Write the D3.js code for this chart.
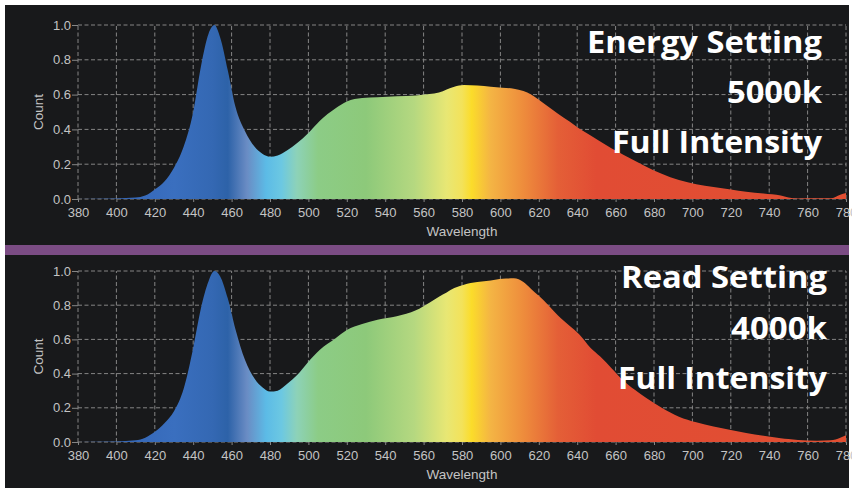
<!DOCTYPE html>
<html>
<head>
<meta charset="utf-8">
<script src="https://cdn.jsdelivr.net/npm/d3@7"></script>
<style>
  body { margin: 0; background: #fff; }
  svg { display: block; }
</style>
</head>
<body>
<svg id="chart" width="852" height="491"></svg>
<script>
// ---- data ----
const wavelengths = [380, 400, 410, 415, 420, 425, 430, 435, 440, 444, 448, 451, 454, 458, 462, 467,
  472, 476, 480, 484, 489, 494, 500, 506, 514, 520, 528, 536, 546, 556, 563, 568, 572, 576, 581,
  588, 595, 601, 607, 612, 616, 620, 625, 630, 636, 641, 647, 652, 658, 664, 670, 676, 684, 693,
  702, 711, 720, 728, 737, 746, 750, 755, 765, 772, 777, 780];

const energy5000k = [0, 0.003, 0.008, 0.02, 0.055, 0.10, 0.18, 0.30, 0.50, 0.76, 0.95, 1.0, 0.93, 0.74, 0.53, 0.39,
  0.30, 0.26, 0.243, 0.25, 0.28, 0.32, 0.38, 0.45, 0.52, 0.56, 0.58, 0.585, 0.59, 0.595, 0.603, 0.612, 0.63, 0.645, 0.655,
  0.652, 0.645, 0.64, 0.634, 0.62, 0.60, 0.57, 0.53, 0.49, 0.445, 0.405, 0.365, 0.33, 0.29, 0.255, 0.22, 0.186, 0.145, 0.109,
  0.085, 0.069, 0.055, 0.042, 0.032, 0.02, 0.008, 0.003, 0.004, 0.004, 0.025, 0.035];

const read4000k = [0, 0.003, 0.01, 0.025, 0.06, 0.11, 0.18, 0.31, 0.55, 0.78, 0.94, 1.0, 0.97, 0.84, 0.66, 0.48,
  0.37, 0.32, 0.295, 0.30, 0.34, 0.39, 0.47, 0.54, 0.605, 0.655, 0.69, 0.715, 0.735, 0.77, 0.815, 0.85, 0.875, 0.90, 0.92,
  0.935, 0.945, 0.955, 0.957, 0.935, 0.895, 0.855, 0.80, 0.74, 0.68, 0.63, 0.55, 0.50, 0.43, 0.36, 0.305, 0.257, 0.20, 0.148,
  0.115, 0.09, 0.07, 0.053, 0.036, 0.022, 0.017, 0.012, 0.008, 0.01, 0.025, 0.04];

const xTickValues = [380, 400, 420, 440, 460, 480, 500, 520, 540, 560, 580, 600, 620, 640, 660, 680, 700, 720, 740, 760, 780];
const yTickValues = [0, 0.2, 0.4, 0.6, 0.8, 1.0];

const energyTitle = ["Energy Setting", "5000k", "Full Intensity"];
const readTitle = ["Read Setting", "4000k", "Full Intensity"];

// visible-spectrum colours used for the fill
const spectrum = [
  [380, "#2f5fb0"], [430, "#3a6fbf"], [450, "#3468b3"], [458, "#2d62a8"], [468, "#6a8cc4"],
  [478, "#5cbbe6"], [486, "#6cc8e2"], [494, "#8dd2b8"], [505, "#8ccc86"], [530, "#8dc97a"],
  [555, "#b5d880"], [572, "#e8e774"], [580, "#f3e25a"], [585, "#fbdc2a"], [595, "#f4b444"],
  [612, "#ee8c3c"], [630, "#e45f37"], [650, "#e14c34"], [780, "#e14f32"]
];

const gridColor = "#858585";
const labelColor = "#c4c4c4";

const svg = d3.select("#chart");

svg.append("rect")
  .attr("x", 5).attr("y", 5)
  .attr("width", 844).attr("height", 483)
  .attr("fill", "#18191b");

svg.append("rect")
  .attr("x", 5).attr("y", 245)
  .attr("width", 844).attr("height", 10)
  .attr("fill", "#7b4c84");

const xScale = d3.scaleLinear().domain([380, 780]).range([78, 846]);

const grad = svg.append("defs").append("linearGradient")
  .attr("id", "spectrum")
  .attr("gradientUnits", "userSpaceOnUse")
  .attr("x1", xScale(380)).attr("x2", xScale(780))
  .attr("y1", 0).attr("y2", 0);

grad.selectAll("stop")
  .data(spectrum)
  .join("stop")
  .attr("offset", d => (xScale(d[0]) - xScale(380)) / (xScale(780) - xScale(380)))
  .attr("stop-color", d => d[1]);

const panels = [
  { values: energy5000k, titles: energyTitle, top: 25, bottom: 199,
    titleRight: 822, titleBase: [53, 103, 153], titleWidth: [235, 95, 210] },
  { values: read4000k, titles: readTitle, top: 271, bottom: 442,
    titleRight: 827, titleBase: [288, 339, 389], titleWidth: [206, 96, 209] }
];

panels.forEach(p => {
  const yScale = d3.scaleLinear().domain([0, 1]).range([p.bottom, p.top]);
  const g = svg.append("g");

  // dashed grid
  g.append("g")
    .selectAll("line.h")
    .data(yTickValues)
    .join("line")
    .attr("x1", xScale(380)).attr("x2", xScale(780))
    .attr("y1", d => yScale(d)).attr("y2", d => yScale(d));
  g.append("g")
    .selectAll("line.v")
    .data(xTickValues)
    .join("line")
    .attr("x1", d => xScale(d)).attr("x2", d => xScale(d))
    .attr("y1", yScale(0)).attr("y2", yScale(1));
  g.selectAll("line")
    .attr("stroke", gridColor)
    .attr("stroke-width", 1)
    .attr("stroke-dasharray", "4,2.5");

  const area = d3.area()
    .x((d, i) => xScale(wavelengths[i]))
    .y0(yScale(0))
    .y1(d => yScale(d))
    .curve(d3.curveMonotoneX);

  g.append("path")
    .datum(p.values)
    .attr("d", area)
    .attr("fill", "url(#spectrum)");

  const yAxis = g.append("g")
    .attr("transform", `translate(${xScale(380)},0)`)
    .call(d3.axisLeft(yScale).tickValues(yTickValues).tickFormat(d3.format(".1f")).tickSize(6).tickPadding(1));
  yAxis.select(".domain").remove();
  yAxis.selectAll("line").attr("stroke", gridColor);

  const xAxis = g.append("g")
    .attr("transform", `translate(0,${yScale(0)})`)
    .call(d3.axisBottom(xScale).tickValues(xTickValues).tickFormat(d3.format("d")).tickSize(3).tickPadding(6));
  xAxis.select(".domain").remove();
  xAxis.selectAll("line").attr("stroke", gridColor);

  g.selectAll(".tick text")
    .attr("fill", labelColor)
    .style("font-family", "'Liberation Sans', Arial, sans-serif")
    .style("font-size", "13px");

  g.append("text")
    .attr("x", (xScale(380) + xScale(780)) / 2)
    .attr("y", p.bottom + 37)
    .attr("text-anchor", "middle")
    .attr("fill", labelColor)
    .style("font-family", "'Liberation Sans', Arial, sans-serif")
    .style("font-size", "13.5px")
    .text("Wavelength");

  g.append("text")
    .attr("transform", `translate(43,${(p.top + p.bottom) / 2}) rotate(-90)`)
    .attr("text-anchor", "middle")
    .attr("fill", labelColor)
    .style("font-family", "'Liberation Sans', Arial, sans-serif")
    .style("font-size", "13.5px")
    .text("Count");

  g.selectAll(".title")
    .data(p.titles)
    .join("text")
    .attr("class", "title")
    .attr("x", p.titleRight)
    .attr("y", (d, i) => p.titleBase[i])
    .attr("text-anchor", "end")
    .attr("textLength", (d, i) => p.titleWidth[i])
    .attr("lengthAdjust", "spacingAndGlyphs")
    .attr("fill", "#ffffff")
    .style("font-family", "'Open Sans', sans-serif")
    .style("font-weight", 700)
    .style("font-size", "29.5px")
    .text(d => d);
});
</script>
</body>
</html>
